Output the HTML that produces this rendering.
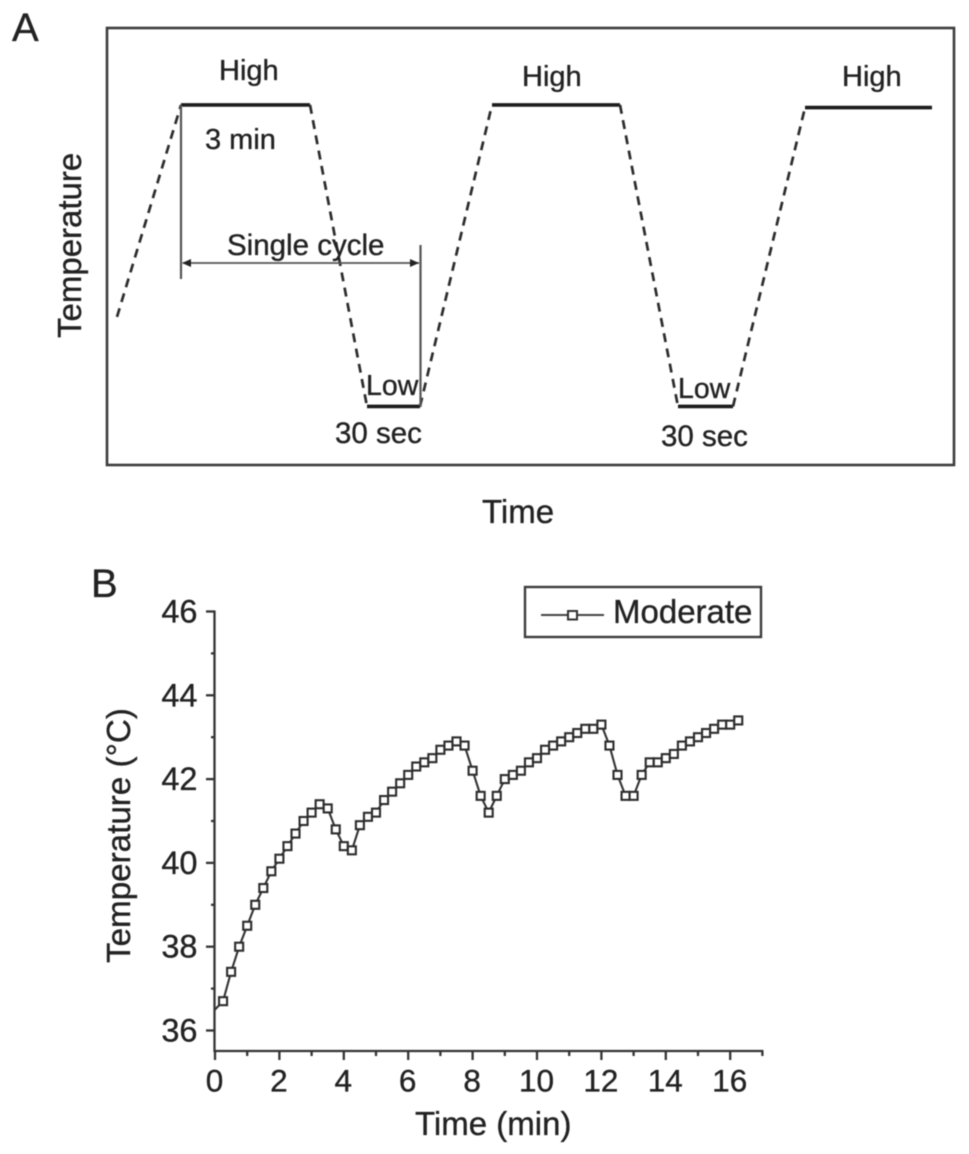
<!DOCTYPE html>
<html>
<head>
<meta charset="utf-8">
<title>Temperature cycling chart</title>
<style>
html,body{margin:0;padding:0;background:#fff;}
svg{display:block;}
text{font-family:"Liberation Sans",sans-serif;fill:#222;stroke:#222;stroke-width:0.35px;}
</style>
</head>
<body>
<svg id="fig" xmlns="http://www.w3.org/2000/svg" width="969" height="1154" viewBox="0 0 969 1154">
  <g id="soft" style="filter:blur(0.6px)">
    <g id="panel-a">
      <text x="12" y="41" font-size="40">A</text>
      <rect x="107" y="28" width="847" height="437" fill="none" stroke="#3c3c3c" stroke-width="2.6"/>
      <g id="schedule"></g>
      <line x1="181" y1="105" x2="181" y2="279" stroke="#555" stroke-width="2.2"/>
      <line x1="420.500" y1="245" x2="420.500" y2="407" stroke="#555" stroke-width="2.2"/>
      <line x1="183" y1="263" x2="419" y2="263" stroke="#555" stroke-width="1.700"/>
      <path d="M182 263l9-4v8z" fill="#222"/>
      <path d="M419 263l-9-4v8z" fill="#222"/>
      <text x="219" y="80" font-size="29">High</text>
      <text x="522" y="86" font-size="29">High</text>
      <text x="842" y="86" font-size="29">High</text>
      <text x="205" y="149" font-size="29">3 min</text>
      <text x="227" y="255" font-size="29.500">Single cycle</text>
      <text x="366" y="395" font-size="28.500">Low</text>
      <text x="678" y="398" font-size="28.500">Low</text>
      <text x="335" y="443" font-size="29.500">30 sec</text>
      <text x="661" y="446" font-size="29.500">30 sec</text>
      <text transform="translate(81,338) rotate(-90)" font-size="33">Temperature</text>
      <text x="482" y="523" font-size="33">Time</text>
    </g>
    <g id="panel-b">
      <text x="91" y="597" font-size="40">B</text>
      <g id="axes"></g>
      <g id="series"></g>
      <text transform="translate(130,963) rotate(-90)" font-size="33.200">Temperature (°C)</text>
      <text x="415" y="1135" font-size="33">Time (min)</text>
      <g>
        <rect x="525" y="587" width="236" height="50" fill="#fff" stroke="#3c3c3c" stroke-width="2.4"/>
        <line x1="541" y1="615" x2="604" y2="615" stroke="#444" stroke-width="2"/>
        <rect x="568" y="611" width="9" height="8.500" fill="#fff" stroke="#333" stroke-width="2"/>
        <text x="613" y="623" font-size="33">Moderate</text>
      </g>
    </g>
  </g>
</svg>
<script>
// Panel B data
const times = [0,0.25,0.5,0.75,1,1.25,1.5,1.75,2,2.25,2.5,2.75,3,3.25,3.5,3.75,4,4.25,4.5,4.75,5,5.25,5.5,5.75,6,6.25,6.5,6.75,7,7.25,7.5,7.75,8,8.25,8.5,8.75,9,9.25,9.5,9.75,10,10.25,10.5,10.75,11,11.25,11.5,11.75,12,12.25,12.5,12.75,13,13.25,13.5,13.75,14,14.25,14.5,14.75,15,15.25,15.5,15.75,16,16.25];
const temperatures = [36.5,36.7,37.4,38.0,38.5,39.0,39.4,39.8,40.1,40.4,40.7,41.0,41.2,41.4,41.3,40.8,40.4,40.3,40.9,41.1,41.2,41.5,41.7,41.9,42.1,42.3,42.4,42.5,42.7,42.8,42.9,42.8,42.2,41.6,41.2,41.6,42.0,42.1,42.2,42.4,42.5,42.7,42.8,42.9,43.0,43.1,43.2,43.2,43.3,42.8,42.1,41.6,41.6,42.1,42.4,42.4,42.5,42.6,42.8,42.9,43.0,43.1,43.2,43.3,43.3,43.4];
const xTickLabels = [0,2,4,6,8,10,12,14,16];
const xMinorTicks = [1,3,5,7,9,11,13,15,17];
const yTickLabels = [36,38,40,42,44,46];
const yMinorTicks = [37,39,41,43,45];

// Panel A schedule (schematic time units, temperature in % of frame height)
const rampStart = [1.0, 33.9];
const highPhases = [[7.4,20.3,82.4],[38.5,51.3,82.4],[69.8,82.5,81.8]];
const lowPhases = [[26.0,31.3,13.4],[57.1,62.6,13.4]];

const NS = 'http://www.w3.org/2000/svg';
const xB = v => 215 + v * 32.2;
const yB = v => 1030.5 - (v - 36) * 41.9;
const xA = t => 107 + t * 10;
const yA = p => 465 - p * 4.37;

function make(tag, attrs, parent) {
  const el = document.createElementNS(NS, tag);
  for (const k in attrs) el.setAttribute(k, attrs[k]);
  parent.appendChild(el);
  return el;
}

// Panel A
const sched = document.getElementById('schedule');
function dashed(x1, y1, x2, y2) {
  const el = make('line', {x1, y1, x2, y2, stroke:'#2c2c2c', 'stroke-width':2.7, 'stroke-dasharray':'9 6.5'}, sched);
  
  
}
highPhases.forEach(function (h) {
  const el = make('line', {x1:xA(h[0]), y1:yA(h[2]), x2:xA(h[1]), y2:yA(h[2]), stroke:'#1c1c1c', 'stroke-width':3.6}, sched);
  
  
});
lowPhases.forEach(function (l) {
  const el = make('line', {x1:xA(l[0]), y1:yA(l[2]), x2:xA(l[1]), y2:yA(l[2]), stroke:'#1c1c1c', 'stroke-width':3.6}, sched);
  
  
});
dashed(xA(rampStart[0]), yA(rampStart[1]), xA(highPhases[0][0]), yA(highPhases[0][2]));
for (let i = 0; i < lowPhases.length; i++) {
  dashed(xA(highPhases[i][1]), yA(highPhases[i][2]), xA(lowPhases[i][0]), yA(lowPhases[i][2]));
  dashed(xA(lowPhases[i][1]), yA(lowPhases[i][2]), xA(highPhases[i+1][0]), yA(highPhases[i+1][2]));
}

// Panel B axes
const axes = document.getElementById('axes');
const ax = {stroke:'#333', 'stroke-width':2.3};
const yAxisLine = make('line', Object.assign({x1:xB(0)-0.5, y1:yB(46)-1, x2:xB(0)-0.5, y2:1052}, ax), axes);


const xAxisLine = make('line', Object.assign({x1:xB(0)-1, y1:1051, x2:xB(17)+1, y2:1051}, ax), axes);



xTickLabels.forEach(function (v) {
  const t = make('line', Object.assign({x1:xB(v), y1:1051, x2:xB(v), y2:1060}, ax), axes);
  
  
  const l = make('text', {x:xB(v)-0.5, y:1091.5, 'font-size':31.5, 'text-anchor':'middle'}, axes);
  
  
  l.textContent = v;
});
xMinorTicks.forEach(function (v) {
  const t = make('line', Object.assign({x1:xB(v), y1:1051, x2:xB(v), y2:1056}, ax), axes);
  
  
});
yTickLabels.forEach(function (v) {
  const t = make('line', Object.assign({x1:206, y1:yB(v), x2:xB(0), y2:yB(v)}, ax), axes);
  
  
  const l = make('text', {x:197.5, y:yB(v)+11, 'font-size':32.5, 'text-anchor':'end'}, axes);
  
  
  l.textContent = v;
});
yMinorTicks.forEach(function (v) {
  const t = make('line', Object.assign({x1:211, y1:yB(v), x2:xB(0), y2:yB(v)}, ax), axes);
  
  
});

// Panel B series
const series = document.getElementById('series');
const pts = times.map((t, i) => xB(t) + ',' + yB(temperatures[i])).join(' ');
const seriesLine = make('polyline', {points:pts, fill:'none', stroke:'#333', 'stroke-width':2.1}, series);


times.forEach(function (t, i) {
  if (i === 0) return;
  const m = make('rect', {x:xB(t)-4, y:yB(temperatures[i])-4, width:8, height:8, fill:'#fff', stroke:'#2c2c2c', 'stroke-width':2.1}, series);
  
  
});
</script>
</body>
</html>
